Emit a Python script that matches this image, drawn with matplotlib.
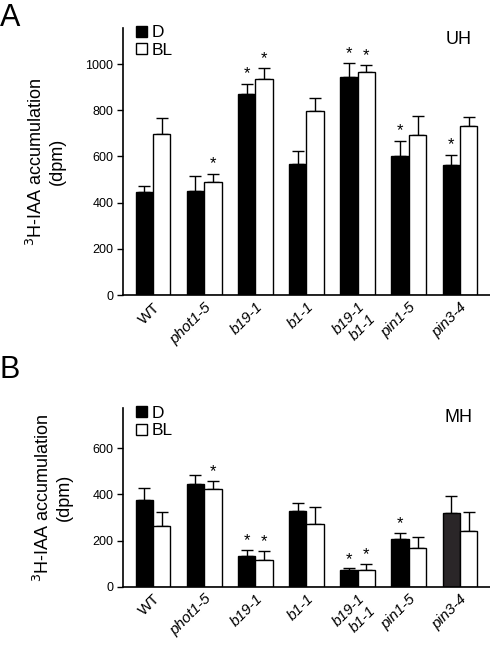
import numpy as np
import matplotlib
matplotlib.use('Agg')
import matplotlib.pyplot as plt

plt.rcParams['font.family'] = ['Liberation Sans', 'DejaVu Sans']

labels = ['WT', 'phot1-5', 'b19-1', 'b1-1', 'b19-1\nb1-1', 'pin1-5', 'pin3-4']
italic = [False, True, True, True, True, True, True]

# panel A (UH)
uh_d = [446, 449, 870, 568, 942, 602, 563]
uh_d_err = [27, 67, 45, 57, 61, 66, 42]
uh_bl = [696, 490, 937, 798, 967, 694, 733]
uh_bl_err = [69, 35, 44, 56, 27, 82, 39]
uh_star_d = [False, False, True, False, True, True, True]
uh_star_bl = [False, True, True, False, True, False, False]

# panel B (MH)
mh_d = [376, 444, 135, 327, 74, 206, 320]
mh_d_err = [51, 39, 25, 35, 6, 28, 72]
mh_bl = [263, 423, 115, 271, 72, 167, 241]
mh_bl_err = [63, 34, 42, 75, 29, 51, 82]
mh_star_d = [False, False, True, False, True, True, False]
mh_star_bl = [False, True, True, False, True, False, False]

fig = plt.figure(figsize=(4.9, 6.5), dpi=100)
axA = fig.add_axes([0.251, 0.546, 0.749, 0.411])
axB = fig.add_axes([0.251, 0.097, 0.749, 0.276])

x = np.arange(len(labels))
w = 0.34


def draw(ax, d, derr, bl, blerr, sd, sbl, ymax, yticks, tag, dcolors):
    ax.bar(x - w / 2, d, w, color=dcolors, edgecolor='black', linewidth=1, label='D', zorder=2)
    ax.bar(x + w / 2, bl, w, color='white', edgecolor='black', linewidth=1, label='BL', zorder=2)
    ax.errorbar(x - w / 2, d, yerr=[np.zeros(len(d)), derr], fmt='none', ecolor='black',
                elinewidth=1, capsize=4, capthick=1, zorder=1)
    ax.errorbar(x + w / 2, bl, yerr=[np.zeros(len(bl)), blerr], fmt='none', ecolor='black',
                elinewidth=1, capsize=4, capthick=1, zorder=1)
    for i in range(len(d)):
        if sd[i]:
            ax.text(x[i] - w / 2, d[i] + derr[i] + ymax * 0.01, '*', ha='center', va='bottom', fontsize=12)
        if sbl[i]:
            ax.text(x[i] + w / 2, bl[i] + blerr[i] + ymax * 0.01, '*', ha='center', va='bottom', fontsize=12)
    ax.set_xlim(-0.586, len(labels) - 1 + 0.586)
    ax.set_ylim(0, ymax)
    ax.set_yticks(yticks)
    ax.spines['top'].set_visible(False)
    ax.spines['right'].set_visible(False)
    ax.spines['left'].set_linewidth(1.2)
    ax.spines['bottom'].set_linewidth(1.2)
    ax.tick_params(axis='y', direction='out', length=4, width=1, labelsize=9, pad=3)
    ax.tick_params(axis='x', length=0)
    ax.set_xticks(x)
    ax.set_xticklabels(labels, rotation=45, ha='right', va='top', rotation_mode='anchor', fontsize=11)
    for t, it in zip(ax.get_xticklabels(), italic):
        if it:
            t.set_fontstyle('italic')
    ax.set_ylabel('$^{3}$H-IAA accumulation\n(dpm)', fontsize=13, labelpad=14)
    ax.text(0.951, 0.99, tag, transform=ax.transAxes, ha='right', va='top', fontsize=13)
    ax.legend(loc='upper left', bbox_to_anchor=(0.036, 1.01), frameon=False, fontsize=12.5,
              handlelength=0.6, handleheight=0.6, handletextpad=0.3, labelspacing=0.15,
              borderaxespad=0, borderpad=0)


draw(axA, uh_d, uh_d_err, uh_bl, uh_bl_err, uh_star_d, uh_star_bl, 1156,
     [0, 200, 400, 600, 800, 1000], 'UH', 'black')
draw(axB, mh_d, mh_d_err, mh_bl, mh_bl_err, mh_star_d, mh_star_bl, 776,
     [0, 200, 400, 600], 'MH', ['black'] * 6 + ['#2a2628'])

fig.text(0.0, 0.995, 'A', fontsize=22, ha='left', va='top')
fig.text(0.0, 0.454, 'B', fontsize=22, ha='left', va='top')

fig.savefig('out.png', dpi=100)
